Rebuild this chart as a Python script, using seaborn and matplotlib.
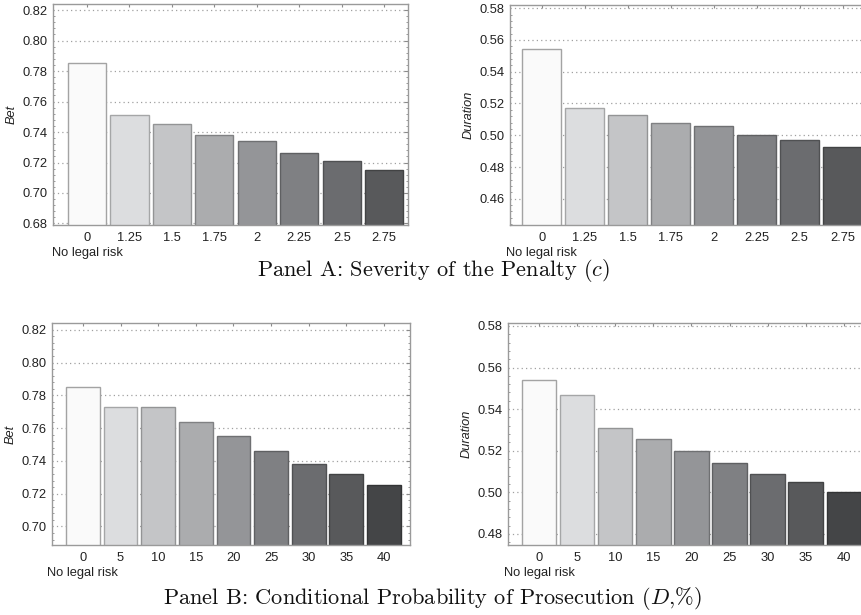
import matplotlib
matplotlib.use("Agg")
import matplotlib.pyplot as plt
import matplotlib.colors as mcolors
from matplotlib.ticker import MultipleLocator, AutoMinorLocator, FormatStrFormatter
import seaborn as sns
import pandas as pd

# ---------------- data ----------------
penalty_labels = ["0", "1.25", "1.5", "1.75", "2", "2.25", "2.5", "2.75"]
penalty_bet = [0.785, 0.751, 0.745, 0.738, 0.734, 0.726, 0.721, 0.715]
penalty_duration = [0.554, 0.517, 0.513, 0.508, 0.506, 0.500, 0.497, 0.4925]

prob_labels = ["0", "5", "10", "15", "20", "25", "30", "35", "40"]
prob_bet = [0.785, 0.773, 0.773, 0.764, 0.755, 0.746, 0.738, 0.732, 0.725]
prob_duration = [0.554, 0.547, 0.531, 0.5255, 0.520, 0.514, 0.509, 0.505, 0.500]

baseline_note = "No legal risk"

grays8 = ["#fafafa", "#dcdddf", "#c4c5c7", "#abacae", "#949598", "#7f8083", "#6b6c6f", "#58595b"]
grays9 = ["#fafafa", "#dcdddf", "#c4c5c7", "#abacae", "#949598", "#7f8083", "#6b6c6f", "#58595b", "#444547"]

panel_a_title = r"Panel A: Severity of the Penalty ($c$)"
panel_b_title = r"Panel B: Conditional Probability of Prosecution ($D$,$\%$)"

# ---------------- style ----------------
sns.set_theme(style="white")
plt.rcParams["font.family"] = ["Liberation Sans", "DejaVu Sans"]
plt.rcParams["mathtext.fontset"] = "cm"

W, H = 862, 615
fig = plt.figure(figsize=(W / 100, H / 100), dpi=100)


def axes_px(left, right, top, bottom):
    return fig.add_axes([left / W, 1 - bottom / H, (right - left) / W, (bottom - top) / H])


def draw(ax, labels, values, colors, ylabel, ylim, xlim):
    df = pd.DataFrame({"cat": labels, "val": values})
    sns.barplot(data=df, x="cat", y="val", hue="cat", palette=colors, legend=False,
                order=labels, hue_order=labels, width=0.9, ax=ax, saturation=1)
    for p, c in zip(ax.patches, colors):
        rgb = mcolors.to_rgb(c)
        edge = tuple(max(0, v * 0.75) for v in rgb)
        if rgb[0] > 0.95:
            edge = (0.64, 0.64, 0.64)
        p.set_edgecolor(edge)
        p.set_linewidth(1.0)
    ax.set_ylim(*ylim)
    ax.set_xlim(*xlim)
    ax.yaxis.set_major_locator(MultipleLocator(0.02))
    ax.yaxis.set_minor_locator(AutoMinorLocator(5))
    ax.yaxis.set_major_formatter(FormatStrFormatter("%.2f"))
    ax.set_xlabel("")
    ax.set_ylabel(ylabel, fontsize=9.2, style="italic", color="#222222", labelpad=3.5)
    ax.set_axisbelow(True)
    ax.yaxis.grid(True, linestyle=(0, (1, 2.5)), color="#a0a0a0", linewidth=0.9)
    ax.xaxis.grid(False)
    for s in ax.spines.values():
        s.set_color("#9a9a9a")
        s.set_linewidth(1.0)
    ax.tick_params(axis="both", which="both", direction="in", top=True, right=True,
                   color="#8a8a8a", labelsize=9.3, labelcolor="#222222")
    ax.tick_params(axis="both", which="major", length=3, width=0.8, pad=4)
    ax.tick_params(axis="y", which="minor", length=1.6, width=0.6, left=True, right=True)
    ax.tick_params(axis="x", which="major", length=2.5, pad=5)
    ax.set_xticks(range(len(labels)))
    ax.set_xticklabels(labels)
    ax.annotate(baseline_note, xy=(0, 0), xycoords=("data", "axes fraction"),
                xytext=(0, -20), textcoords="offset points", ha="center", va="center",
                fontsize=9.3, color="#222222")
    ax.set_facecolor("white")


ax1 = axes_px(53, 408, 4, 225)
draw(ax1, penalty_labels, penalty_bet, grays8, "Bet", (0.679, 0.824), (-0.8, 7.56))

ax2 = axes_px(510, 864, 5, 225)
draw(ax2, penalty_labels, penalty_duration, grays8, "Duration", (0.4435, 0.582), (-0.74, 7.5))

ax3 = axes_px(52, 410, 323, 545)
draw(ax3, prob_labels, prob_bet, grays9, "Bet", (0.6887, 0.8241), (-0.82, 8.69))

ax4 = axes_px(508, 865, 323, 545)
draw(ax4, prob_labels, prob_duration, grays9, "Duration", (0.4747, 0.5814), (-0.82, 8.56))

fig.text(0.503, 1 - 271 / H, panel_a_title, ha="center", va="center",
         fontsize=16.1, family="cmr10", color="#111111")
fig.text(0.502, 1 - 598 / H, panel_b_title, ha="center", va="center",
         fontsize=16.1, family="cmr10", color="#111111")

fig.savefig("out.png", dpi=100, facecolor="white")
